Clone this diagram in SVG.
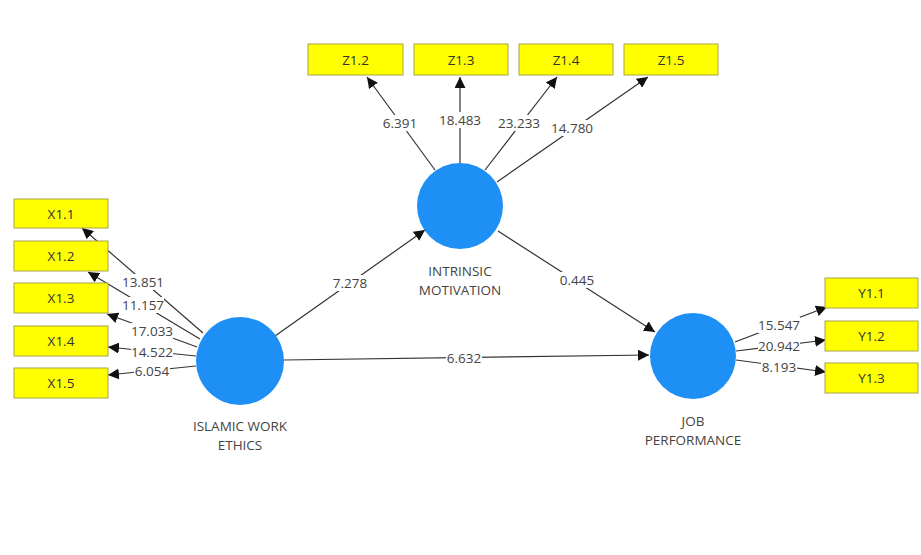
<svg xmlns="http://www.w3.org/2000/svg" width="921" height="555" viewBox="0 0 921 555">
<defs>
<style>
.box{fill:#ffff00;stroke:#a8a44a;stroke-width:1}
.bt{font-family:"Open Sans","Liberation Sans",sans-serif;font-size:13.5px;fill:#333;text-anchor:middle;dominant-baseline:central}
.lv{fill:#1e90f5}
.lt{font-family:"Open Sans","Liberation Sans",sans-serif;font-size:13.5px;fill:#444;text-anchor:middle}
.c line{stroke:#333;stroke-width:1.2;marker-end:url(#ah)}
.bg{fill:#fff}
.el{font-family:"Open Sans","Liberation Sans",sans-serif;font-size:13.5px;fill:#444;text-anchor:middle;dominant-baseline:central}
</style>
<marker id="ah" viewBox="0 0 10 10" refX="10" refY="5" markerWidth="11" markerHeight="11" markerUnits="userSpaceOnUse" orient="auto">
<path d="M0,0 L10,5 L0,10 z" fill="#111"/>
</marker>
</defs>
<rect width="921" height="555" fill="#fff"/>
<g id="connectors" class="c">
<line x1="203" y1="333" x2="82" y2="228"/>
<line x1="200" y1="339" x2="88" y2="272"/>
<line x1="197" y1="347" x2="107" y2="314"/>
<line x1="196" y1="356" x2="108" y2="347"/>
<line x1="196" y1="366" x2="108" y2="375"/>
<line x1="435" y1="170" x2="367" y2="77"/>
<line x1="460" y1="163" x2="460" y2="77"/>
<line x1="485" y1="170" x2="557" y2="77"/>
<line x1="497" y1="182" x2="648" y2="77"/>
<line x1="275" y1="336" x2="425" y2="230"/>
<line x1="498" y1="231" x2="655" y2="332"/>
<line x1="284" y1="360" x2="649" y2="355"/>
<line x1="735" y1="342" x2="827" y2="307"/>
<line x1="736" y1="351" x2="826" y2="340"/>
<line x1="736" y1="360" x2="826" y2="372"/>
</g>
<g id="edge-labels">
<rect class="bg" x="122" y="274" width="42" height="16"/><text class="el" x="143" y="282">13.851</text>
<rect class="bg" x="122" y="297" width="42" height="16"/><text class="el" x="143" y="305">11.157</text>
<rect class="bg" x="131" y="323" width="42" height="16"/><text class="el" x="152" y="331">17.033</text>
<rect class="bg" x="131" y="344" width="42" height="16"/><text class="el" x="152" y="352">14.522</text>
<rect class="bg" x="134" y="363" width="36" height="16"/><text class="el" x="152" y="371">6.054</text>
<rect class="bg" x="382" y="115" width="36" height="16"/><text class="el" x="400" y="123">6.391</text>
<rect class="bg" x="439" y="112" width="42" height="16"/><text class="el" x="460" y="120">18.483</text>
<rect class="bg" x="498" y="115" width="42" height="16"/><text class="el" x="519" y="123">23.233</text>
<rect class="bg" x="551" y="120" width="42" height="16"/><text class="el" x="572" y="128">14.780</text>
<rect class="bg" x="332" y="275" width="36" height="16"/><text class="el" x="350" y="283">7.278</text>
<rect class="bg" x="559" y="272" width="36" height="16"/><text class="el" x="577" y="280">0.445</text>
<rect class="bg" x="446" y="350" width="36" height="16"/><text class="el" x="464" y="358">6.632</text>
<rect class="bg" x="758" y="317" width="42" height="16"/><text class="el" x="779" y="325">15.547</text>
<rect class="bg" x="758" y="338" width="42" height="16"/><text class="el" x="779" y="346">20.942</text>
<rect class="bg" x="761" y="359" width="36" height="16"/><text class="el" x="779" y="367">8.193</text>
</g>
<g id="IWE"><circle class="lv" cx="240" cy="361" r="44"/><text class="lt" x="240" y="431">ISLAMIC WORK</text><text class="lt" x="240" y="450">ETHICS</text></g>
<g id="IM"><circle class="lv" cx="460" cy="206" r="43"/><text class="lt" x="460" y="276">INTRINSIC</text><text class="lt" x="460" y="295">MOTIVATION</text></g>
<g id="JP"><circle class="lv" cx="693" cy="356" r="43"/><text class="lt" x="693" y="426">JOB</text><text class="lt" x="693" y="445">PERFORMANCE</text></g>
<g id="X1.1"><rect class="box" x="14" y="199" width="94" height="29"/><text class="bt" x="61" y="213.5">X1.1</text></g>
<g id="X1.2"><rect class="box" x="14" y="241" width="94" height="30"/><text class="bt" x="61" y="256">X1.2</text></g>
<g id="X1.3"><rect class="box" x="14" y="283" width="94" height="30"/><text class="bt" x="61" y="298">X1.3</text></g>
<g id="X1.4"><rect class="box" x="14" y="326" width="94" height="30"/><text class="bt" x="61" y="341">X1.4</text></g>
<g id="X1.5"><rect class="box" x="14" y="368" width="94" height="30"/><text class="bt" x="61" y="383">X1.5</text></g>
<g id="Z1.2"><rect class="box" x="308" y="44" width="95" height="31"/><text class="bt" x="355.5" y="59.5">Z1.2</text></g>
<g id="Z1.3"><rect class="box" x="414" y="44" width="94" height="31"/><text class="bt" x="461" y="59.5">Z1.3</text></g>
<g id="Z1.4"><rect class="box" x="519" y="44" width="94" height="31"/><text class="bt" x="566" y="59.5">Z1.4</text></g>
<g id="Z1.5"><rect class="box" x="624" y="44" width="94" height="31"/><text class="bt" x="671" y="59.5">Z1.5</text></g>
<g id="Y1.1"><rect class="box" x="825" y="278" width="93" height="30"/><text class="bt" x="871.5" y="293">Y1.1</text></g>
<g id="Y1.2"><rect class="box" x="825" y="321" width="93" height="30"/><text class="bt" x="871.5" y="336">Y1.2</text></g>
<g id="Y1.3"><rect class="box" x="825" y="363" width="93" height="30"/><text class="bt" x="871.5" y="378">Y1.3</text></g>
</svg>
